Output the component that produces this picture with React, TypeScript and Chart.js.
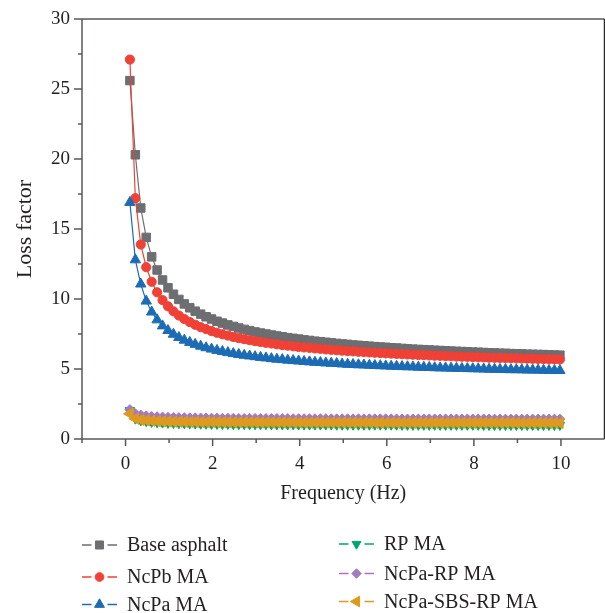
import React, { useEffect, useRef } from 'react';
import { Chart, registerables } from 'chart.js';

Chart.register(...registerables);

// Frequency (Hz)
const frequency = [
  0.1, 0.225, 0.35, 0.475, 0.6, 0.725, 0.85, 0.975, 1.1, 1.225,
  1.35, 1.475, 1.6, 1.725, 1.85, 1.975, 2.1, 2.225, 2.35, 2.475,
  2.6, 2.725, 2.85, 2.975, 3.1, 3.225, 3.35, 3.475, 3.6, 3.725,
  3.85, 3.975, 4.1, 4.225, 4.35, 4.475, 4.6, 4.725, 4.85, 4.975,
  5.1, 5.225, 5.35, 5.475, 5.6, 5.725, 5.85, 5.975, 6.1, 6.225,
  6.35, 6.475, 6.6, 6.725, 6.85, 6.975, 7.1, 7.225, 7.35, 7.475,
  7.6, 7.725, 7.85, 7.975, 8.1, 8.225, 8.35, 8.475, 8.6, 8.725,
  8.85, 8.975, 9.1, 9.225, 9.35, 9.475, 9.6, 9.725, 9.85, 9.975,
];

const baseAsphalt = [
  25.6, 20.3, 16.5, 14.4, 13.01, 12.07, 11.36, 10.8, 10.34, 9.97,
  9.65, 9.37, 9.13, 8.92, 8.73, 8.57, 8.41, 8.28, 8.15, 8.04,
  7.93, 7.83, 7.74, 7.65, 7.57, 7.5, 7.43, 7.36, 7.3, 7.24,
  7.19, 7.14, 7.08, 7.04, 6.99, 6.95, 6.91, 6.87, 6.83, 6.79,
  6.76, 6.72, 6.69, 6.66, 6.63, 6.6, 6.57, 6.55, 6.52, 6.5,
  6.47, 6.45, 6.42, 6.4, 6.38, 6.36, 6.34, 6.32, 6.3, 6.28,
  6.26, 6.25, 6.23, 6.21, 6.2, 6.18, 6.16, 6.15, 6.13, 6.12,
  6.1, 6.09, 6.08, 6.06, 6.05, 6.04, 6.03, 6.01, 6.0, 5.99,
];

const ncpbMA = [
  27.1, 17.2, 13.89, 12.27, 11.23, 10.48, 9.92, 9.48, 9.12, 8.82,
  8.57, 8.35, 8.16, 7.99, 7.85, 7.71, 7.59, 7.48, 7.39, 7.29,
  7.21, 7.13, 7.06, 6.99, 6.93, 6.87, 6.82, 6.76, 6.71, 6.67,
  6.62, 6.58, 6.54, 6.51, 6.47, 6.44, 6.4, 6.37, 6.34, 6.31,
  6.28, 6.26, 6.23, 6.21, 6.18, 6.16, 6.14, 6.12, 6.1, 6.08,
  6.06, 6.04, 6.02, 6.0, 5.99, 5.97, 5.95, 5.94, 5.92, 5.91,
  5.89, 5.88, 5.87, 5.85, 5.84, 5.83, 5.81, 5.8, 5.79, 5.78,
  5.77, 5.76, 5.75, 5.74, 5.73, 5.72, 5.71, 5.7, 5.69, 5.68,
];

const ncpaMA = [
  16.9, 12.8, 11.07, 9.85, 9.07, 8.51, 8.08, 7.75, 7.48, 7.25,
  7.06, 6.9, 6.76, 6.63, 6.52, 6.42, 6.33, 6.25, 6.17, 6.1,
  6.04, 5.98, 5.93, 5.88, 5.83, 5.79, 5.74, 5.7, 5.67, 5.63,
  5.6, 5.57, 5.54, 5.51, 5.48, 5.46, 5.43, 5.41, 5.39, 5.36,
  5.34, 5.32, 5.3, 5.29, 5.27, 5.25, 5.23, 5.22, 5.2, 5.19,
  5.17, 5.16, 5.15, 5.13, 5.12, 5.11, 5.09, 5.08, 5.07, 5.06,
  5.05, 5.04, 5.03, 5.02, 5.01, 5.0, 4.99, 4.98, 4.97, 4.96,
  4.95, 4.95, 4.94, 4.93, 4.92, 4.92, 4.91, 4.9, 4.89, 4.89,
];

const rpMA = [
  2.05, 1.45, 1.33, 1.27, 1.22, 1.19, 1.17, 1.15, 1.14, 1.13,
  1.12, 1.11, 1.1, 1.09, 1.09, 1.08, 1.08, 1.07, 1.07, 1.06,
  1.06, 1.06, 1.05, 1.05, 1.05, 1.05, 1.04, 1.04, 1.04, 1.04,
  1.04, 1.03, 1.03, 1.03, 1.03, 1.03, 1.03, 1.03, 1.02, 1.02,
  1.02, 1.02, 1.02, 1.02, 1.02, 1.02, 1.02, 1.02, 1.02, 1.02,
  1.01, 1.01, 1.01, 1.01, 1.01, 1.01, 1.01, 1.01, 1.01, 1.01,
  1.01, 1.01, 1.01, 1.01, 1.01, 1.0, 1.0, 1.0, 1.0, 1.0,
  1.0, 1.0, 1.0, 1.0, 1.0, 1.0, 1.0, 1.0, 1.0, 1.0,
];

const ncpaRpMA = [
  2.1, 1.81, 1.71, 1.65, 1.61, 1.59, 1.57, 1.55, 1.54, 1.53,
  1.52, 1.51, 1.51, 1.5, 1.5, 1.49, 1.49, 1.48, 1.48, 1.48,
  1.47, 1.47, 1.47, 1.47, 1.46, 1.46, 1.46, 1.46, 1.46, 1.46,
  1.45, 1.45, 1.45, 1.45, 1.45, 1.45, 1.45, 1.44, 1.44, 1.44,
  1.44, 1.44, 1.44, 1.44, 1.44, 1.44, 1.44, 1.44, 1.44, 1.43,
  1.43, 1.43, 1.43, 1.43, 1.43, 1.43, 1.43, 1.43, 1.43, 1.43,
  1.43, 1.43, 1.43, 1.43, 1.43, 1.43, 1.43, 1.42, 1.42, 1.42,
  1.42, 1.42, 1.42, 1.42, 1.42, 1.42, 1.42, 1.42, 1.42, 1.42,
];

const ncpaSbsRpMA = [
  1.8, 1.45, 1.37, 1.33, 1.3, 1.28, 1.26, 1.25, 1.24, 1.23,
  1.23, 1.22, 1.22, 1.21, 1.21, 1.21, 1.2, 1.2, 1.2, 1.19,
  1.19, 1.19, 1.19, 1.19, 1.18, 1.18, 1.18, 1.18, 1.18, 1.18,
  1.18, 1.17, 1.17, 1.17, 1.17, 1.17, 1.17, 1.17, 1.17, 1.17,
  1.17, 1.17, 1.17, 1.17, 1.17, 1.16, 1.16, 1.16, 1.16, 1.16,
  1.16, 1.16, 1.16, 1.16, 1.16, 1.16, 1.16, 1.16, 1.16, 1.16,
  1.16, 1.16, 1.16, 1.16, 1.16, 1.16, 1.16, 1.16, 1.16, 1.16,
  1.16, 1.15, 1.15, 1.15, 1.15, 1.15, 1.15, 1.15, 1.15, 1.15,
];

const seriesLabels = ['Base asphalt', 'NcPb MA', 'NcPa MA', 'RP MA', 'NcPa-RP MA', 'NcPa-SBS-RP MA'];
const seriesValues = [baseAsphalt, ncpbMA, ncpaMA, rpMA, ncpaRpMA, ncpaSbsRpMA];
const seriesColors = ['#6d6e71', '#ef4136', '#1c6cb5', '#00a66e', '#a27bbd', '#de9a1f'];
const seriesStyles = ['rect', 'circle', 'triangle', 'triangle', 'rectRot', 'triangle'];
const seriesRotations = [0, 0, 0, 180, 0, -90];
const seriesRadii = [6, 4.6, 6, 5.5, 5, 6.5];

const xTitle = 'Frequency (Hz)';
const yTitle = 'Loss factor';

const FONT = '"Liberation Serif", "Times New Roman", serif';
const TEXT = '#231f20';
const AXIS = '#58595b';
const W = 605;
const H = 613;
const TARGET_RIGHT = 604;

function drawMarker(ctx: CanvasRenderingContext2D, style: string, x: number, y: number, r: number, rotationDeg: number, color: string) {
  ctx.save();
  ctx.fillStyle = color;
  ctx.strokeStyle = color;
  ctx.lineWidth = 1;
  ctx.beginPath();
  if (style === 'circle') {
    ctx.arc(x, y, r, 0, Math.PI * 2);
  } else if (style === 'rect') {
    const s = Math.SQRT1_2 * r;
    ctx.rect(x - s, y - s, 2 * s, 2 * s);
  } else if (style === 'rectRot') {
    ctx.moveTo(x - r, y);
    ctx.lineTo(x, y - r);
    ctx.lineTo(x + r, y);
    ctx.lineTo(x, y + r);
    ctx.closePath();
  } else {
    let rad = (rotationDeg * Math.PI) / 180;
    ctx.moveTo(x + Math.sin(rad) * r, y - Math.cos(rad) * r);
    rad += (2 * Math.PI) / 3;
    ctx.lineTo(x + Math.sin(rad) * r, y - Math.cos(rad) * r);
    rad += (2 * Math.PI) / 3;
    ctx.lineTo(x + Math.sin(rad) * r, y - Math.cos(rad) * r);
    ctx.closePath();
  }
  ctx.fill();
  ctx.stroke();
  ctx.restore();
}

function buildChart(canvas: HTMLCanvasElement, width: number) {
  canvas.width = width;
  canvas.height = H;
  canvas.style.width = `${width}px`;
  canvas.style.height = `${H}px`;

  const datasets = seriesLabels.map((label, i) => ({
    label,
    data: frequency.map((f, k) => ({ x: f, y: seriesValues[i][k] })),
    borderColor: seriesColors[i],
    backgroundColor: seriesColors[i],
    borderWidth: 1.2,
    pointStyle: seriesStyles[i],
    pointRotation: seriesRotations[i],
    pointRadius: seriesRadii[i],
    pointBackgroundColor: seriesColors[i],
    pointBorderColor: seriesColors[i],
    pointBorderWidth: 1,
    tension: 0,
    fill: false,
    order: seriesLabels.length - 1 - i,
  }));

  const framePlugin = {
    id: 'frame',
    afterDraw(chart: any) {
      const { ctx, chartArea } = chart;
      const { left, right, top, bottom } = chartArea;
      const xs = chart.scales.x;
      const ys = chart.scales.y;
      ctx.save();
      ctx.lineWidth = 1.5;
      ctx.strokeStyle = AXIS;
      ctx.beginPath();
      ctx.moveTo(left, top);
      ctx.lineTo(right, top);
      ctx.moveTo(left, top);
      ctx.lineTo(left, bottom);
      ctx.lineTo(right, bottom);
      ctx.stroke();
      ctx.strokeStyle = '#2b2b2b';
      ctx.beginPath();
      ctx.moveTo(right, top);
      ctx.lineTo(right, bottom);
      ctx.stroke();
      ctx.strokeStyle = AXIS;
      ctx.beginPath();
      for (let v = 0; v <= 30.001; v += 2.5) {
        const py = ys.getPixelForValue(v);
        const len = Math.abs(v % 5) < 0.001 ? 8 : 4;
        ctx.moveTo(left, py);
        ctx.lineTo(left - len, py);
      }
      for (let v = -1; v <= 10; v += 1) {
        const px = xs.getPixelForValue(v);
        const len = v % 2 === 0 ? 7 : 4;
        ctx.moveTo(px, bottom);
        ctx.lineTo(px, bottom + len);
      }
      ctx.stroke();
      ctx.restore();
    },
  };

  const legendPlugin = {
    id: 'customLegend',
    afterDraw(chart: any) {
      const { ctx } = chart;
      const cols = [
        { lineL: 82, lineR: 117, mx: 99.5, tx: 127, rows: [545, 577, 604.5] },
        { lineL: 339, lineR: 374, mx: 356.5, tx: 384, rows: [544, 573.5, 601.5] },
      ];
      ctx.save();
      ctx.font = `20px ${FONT}`;
      ctx.textBaseline = 'middle';
      ctx.textAlign = 'left';
      seriesLabels.forEach((label, i) => {
        const col = cols[Math.floor(i / 3)];
        const y = col.rows[i % 3];
        const color = seriesColors[i];
        ctx.strokeStyle = color;
        ctx.lineWidth = 1.5;
        ctx.beginPath();
        ctx.moveTo(col.lineL, y);
        ctx.lineTo(col.mx - 8, y);
        ctx.moveTo(col.mx + 8, y);
        ctx.lineTo(col.lineR, y);
        ctx.stroke();
        drawMarker(ctx, seriesStyles[i], col.mx, y, seriesRadii[i] * 0.95, seriesRotations[i], color);
        ctx.fillStyle = TEXT;
        ctx.fillText(label, col.tx, y + 1);
      });
      ctx.restore();
    },
  };

  const hiddenGrid = (len: number) => ({
    display: true,
    drawOnChartArea: false,
    drawTicks: true,
    tickLength: len,
    color: 'rgba(0,0,0,0)',
    tickColor: 'rgba(0,0,0,0)',
  });

  return new Chart(canvas, {
    type: 'line',
    data: { datasets: datasets as any },
    options: {
      animation: false,
      responsive: false,
      maintainAspectRatio: false,
      devicePixelRatio: 1,
      layout: { padding: { left: 0, right: 1, top: 19, bottom: 0 } },
      plugins: {
        legend: { display: false },
        tooltip: { enabled: false },
      },
      scales: {
        x: {
          type: 'linear',
          min: -1,
          max: 11,
          grid: hiddenGrid(14) as any,
          border: { display: false },
          ticks: {
            stepSize: 1,
            autoSkip: false,
            maxRotation: 0,
            padding: 0,
            color: TEXT,
            font: { family: FONT, size: 19 },
            callback: (v: any) => {
              const n = Number(v);
              return n >= 0 && n <= 10 && n % 2 === 0 ? String(n) : '';
            },
          },
          title: {
            display: true,
            text: xTitle,
            color: TEXT,
            font: { family: FONT, size: 20 },
            padding: { top: 0, bottom: 107.5 },
          },
          afterFit: (scale: any) => {
            scale.height = 174;
            scale.paddingLeft = 0;
            scale.paddingRight = 0;
          },
        },
        y: {
          type: 'linear',
          min: 0,
          max: 30,
          grid: hiddenGrid(12) as any,
          border: { display: false },
          ticks: {
            stepSize: 2.5,
            autoSkip: false,
            padding: 0,
            color: TEXT,
            font: { family: FONT, size: 19 },
            callback: (v: any) => {
              const n = Number(v);
              return Math.abs(n % 5) < 0.001 ? String(n) : '';
            },
          },
          title: {
            display: true,
            text: yTitle,
            color: TEXT,
            font: { family: FONT, size: 22 },
            padding: { top: 12, bottom: 0 },
          },
          afterFit: (scale: any) => {
            scale.width = 82;
            scale.paddingTop = 0;
            scale.paddingBottom = 0;
          },
        },
      },
    },
    plugins: [framePlugin, legendPlugin],
  });
}

export default function App() {
  const ref = useRef<HTMLCanvasElement | null>(null);

  useEffect(() => {
    const canvas = ref.current;
    if (!canvas) return;
    let width = W;
    let chart = buildChart(canvas, width);
    // Chart.js reserves a few pixels on the right for label overflow; widen the
    // canvas (clipped by the container) so the plot frame ends where the reference's does.
    for (let pass = 0; pass < 2; pass++) {
      const extra = TARGET_RIGHT - chart.chartArea.right;
      if (Math.abs(extra) < 0.25) break;
      chart.destroy();
      width = Math.round(width + extra);
      chart = buildChart(canvas, width);
    }
    return () => {
      chart.destroy();
    };
  }, []);

  return (
    <div style={{ position: 'fixed', left: 0, top: 0, width: W, height: H, overflow: 'hidden', background: '#ffffff' }}>
      <canvas ref={ref} width={W} height={H} style={{ display: 'block', width: W, height: H }} />
    </div>
  );
}
